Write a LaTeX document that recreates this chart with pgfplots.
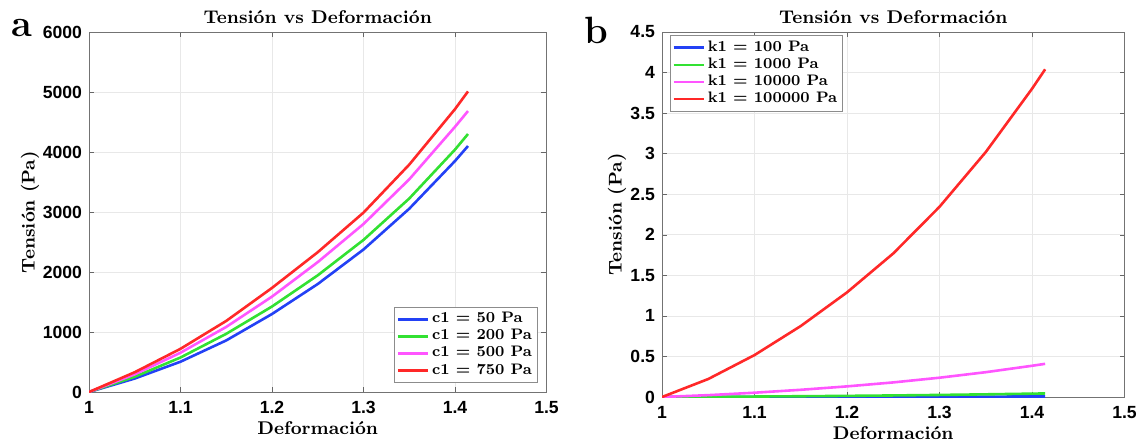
\documentclass[border=0pt]{standalone}
\usepackage{fontspec}
\usepackage{pgfplots}
\pgfplotsset{compat=1.18}
\newfontfamily\tickfont{Liberation Sans}
\definecolor{cB}{RGB}{35,65,245}
\definecolor{cG}{RGB}{50,225,50}
\definecolor{cM}{RGB}{255,85,255}
\definecolor{cR}{RGB}{255,40,40}

\pgfplotstableread{
x      b     g     m     r
1.0    0     0     0     0
1.05   225   255   295   330
1.10   505   575   655   720
1.15   860   970   1085  1185
1.20   1300  1425  1590  1735
1.25   1800  1945  2165  2330
1.30   2375  2535  2800  2990
1.35   3055  3225  3545  3790
1.40   3850  4040  4420  4715
1.4142 4100  4300  4683  5010
}\tabA

\pgfplotstableread{
x      b       g       m      r
1.0    0       0       0      0
1.05   0.0004  0.0025  0.023  0.222
1.10   0.0009  0.0057  0.053  0.517
1.15   0.0015  0.0095  0.089  0.875
1.20   0.0022  0.0140  0.131  1.290
1.25   0.0030  0.0193  0.180  1.770
1.30   0.0040  0.0255  0.238  2.345
1.35   0.0051  0.0330  0.306  3.020
1.40   0.0064  0.0415  0.385  3.800
1.4142 0.0068  0.0440  0.409  4.040
}\tabB

\newcommand\labfont{\fontsize{9.2}{11}\selectfont\bfseries}

\pgfplotsset{
  pan/.style={
    scale only axis,
    xmin=1, xmax=1.5,
    xtick={1,1.1,1.2,1.3,1.4,1.5},
    grid=major,
    major grid style={black!9},
    axis line style={black!55},
    tick style={black!60},
    tick align=inside,
    major tick length=2.5pt,
    ticklabel style={font=\tickfont\bfseries\fontsize{8.8}{9}\selectfont},
    xticklabel style={yshift=-1pt},
    /pgf/number format/assume math mode=true,
    /pgf/number format/1000 sep={},
    scaled ticks=false,
    every axis title shift=0pt,
    title style={font=\labfont, at={(0.5,1)}, anchor=center, yshift=7.5pt},
    legend style={font=\fontsize{7.6}{9}\selectfont\bfseries, draw=black!45, fill=white,
      inner xsep=1pt, inner ysep=0.8pt, row sep=-2.2pt, column sep=0pt,
      nodes={inner xsep=1.5pt}, cells={anchor=west}},
    legend image code/.code={\draw[#1, line width=1.3pt] (0pt,0pt) -- (15pt,0pt);},
    every axis plot/.append style={line width=1.3pt},
  }
}

\begin{document}
\begin{tikzpicture}
\useasboundingbox (0,0) rectangle (572.5pt,-223pt);

\node[anchor=base west, inner sep=0, font=\fontsize{19}{19}\selectfont\bfseries] at (5.5pt,-18.3pt) {a};
\node[anchor=base west, inner sep=0, font=\fontsize{19}{19}\selectfont\bfseries] at (292pt,-21.5pt) {b};

\begin{axis}[pan,
  at={(44.5pt,-196pt)}, anchor=south west,
  width=228.75pt, height=180pt,
  ymin=0, ymax=6000,
  ytick={0,1000,2000,3000,4000,5000,6000},
  title={Tensión vs Deformación},
  xlabel={Deformación}, ylabel={Tensión (Pa)},
  every axis x label/.style={at={(axis description cs:0.5,-0.1)}, anchor=center, font=\labfont},
  every axis y label/.style={at={(axis description cs:-0.129,0.5)}, rotate=90, anchor=center, font=\labfont},
  legend style={at={(0.98,0.025)}, anchor=south east},
]
\addplot[cB] table[x=x,y=b] {\tabA};
\addplot[cG] table[x=x,y=g] {\tabA};
\addplot[cM] table[x=x,y=m] {\tabA};
\addplot[cR] table[x=x,y=r] {\tabA};
\legend{c1 = 50 Pa, c1 = 200 Pa, c1 = 500 Pa, c1 = 750 Pa}
\end{axis}

\begin{axis}[pan,
  at={(331pt,-198.5pt)}, anchor=south west,
  width=231.25pt, height=182.5pt,
  ymin=0, ymax=4.5,
  ytick={0,0.5,1,1.5,2,2.5,3,3.5,4,4.5},
  title={Tensión vs Deformación},
  xlabel={Deformación}, ylabel={Tensión (Pa)},
  every axis x label/.style={at={(axis description cs:0.5,-0.0986)}, anchor=center, font=\labfont},
  every axis y label/.style={at={(axis description cs:-0.0973,0.5)}, rotate=90, anchor=center, font=\labfont},
  legend style={at={(0.017,0.992)}, anchor=north west},
]
\addplot[cB] table[x=x,y=b] {\tabB};
\addplot[cG] table[x=x,y=g] {\tabB};
\addplot[cM] table[x=x,y=m] {\tabB};
\addplot[cR] table[x=x,y=r] {\tabB};
\legend{k1 = 100 Pa, k1 = 1000 Pa, k1 = 10000 Pa, k1 = 100000 Pa}
\node[anchor=south west, inner sep=0, font=\tickfont\fontsize{8}{9}\selectfont] at (axis description cs:0.004,1.011) {×10\textsuperscript{5}};
\end{axis}
\end{tikzpicture}
\end{document}
